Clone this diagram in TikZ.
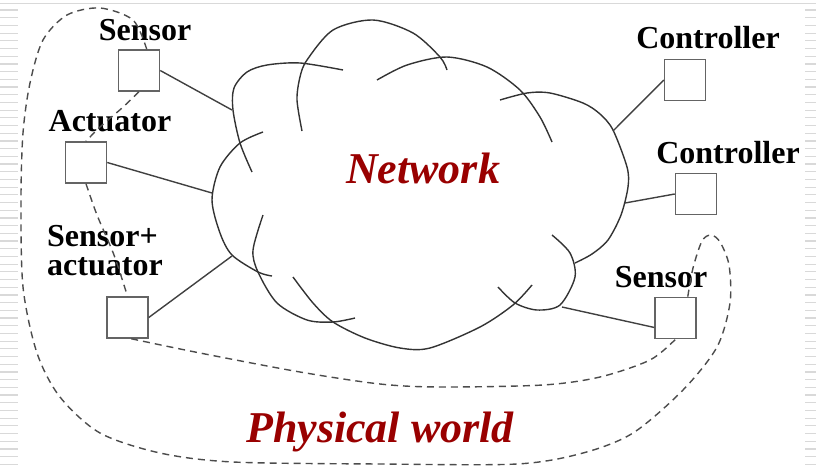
\documentclass[tikz,border=0pt]{standalone}
\usepackage{fontspec}
\setmainfont{Liberation Serif}
\usetikzlibrary{calc}
\definecolor{netred}{RGB}{153,0,0}
\definecolor{boxgray}{RGB}{100,100,100}

\begin{document}
\begin{tikzpicture}[x=1pt, y=-1pt,
    dev/.style={draw=boxgray, line width=1.5pt, minimum size=41pt, inner sep=0pt},
    lbl/.style={font=\fontsize{32}{29}\selectfont\bfseries, inner sep=0pt},
    big/.style={font=\fontsize{44}{48}\selectfont\bfseries\itshape, text=netred, inner sep=0pt},
    cloudline/.style={draw=black!80, line width=1.4pt},
    link/.style={draw=black!75, line width=1.4pt},
    world/.style={draw=black!70, line width=1.4pt, dash pattern=on 7pt off 5pt}]

        \useasboundingbox (0,0) rectangle (816,466);

        % edges of the slide
        \draw[black!15, line width=1pt] (0,3) -- (816,3);
        \foreach \y in {10,17.7,...,466} {
            \draw[black!15, line width=1.2pt] (0,\y) -- (18,\y);
            \draw[black!15, line width=1.2pt] (805,\y) -- (816,\y);
        }

        % devices
        \node[dev] (s1) at (139,70.5) {};
        \node[dev] (a1) at (86,162.5) {};
        \node[dev] (sa) at (127.5,317.5) {};
        \node[dev] (c1) at (685,80) {};
        \node[dev] (c2) at (696,194) {};
        \node[dev] (s2) at (675.5,318) {};

        \node[lbl, anchor=base] (s1-t) at (145,40) {Sensor};
        \node[lbl, anchor=base] (a1-t) at (110,131) {Actuator};
        \node[lbl, anchor=base west, align=left] (sa-t) at (47,275) {Sensor+\\actuator};
        \node[lbl, anchor=base] (c1-t) at (708,48) {Controller};
        \node[lbl, anchor=base] (c2-t) at (728,163) {Controller};
        \node[lbl, anchor=base] (s2-t) at (661,287) {Sensor};

        % cloud
        \draw[cloudline] plot[smooth] coordinates {(252,172) (240,143) (233,110) (234,88) (247,72) (267,65) (300,63) (343,70)};
        \draw[cloudline] plot[smooth] coordinates {(302,131) (297,100) (300,77) (307,60) (333,30) (373,20) (413,33) (440,57) (447,70)};
        \draw[cloudline] plot[smooth] coordinates {(377,80) (407,65) (447,57) (487,67) (520,90) (540,117) (552,142)};
        \draw[cloudline] plot[smooth] coordinates {(500,100) (527,93) (550,93) (583,103) (600,114) (613,130) (627,167) (628,187) (621,215) (608,240) (592,254) (575,263)};
        \draw[cloudline] plot[smooth] coordinates {(552,235) (570,253) (575,277) (560,305) (537,310) (515,303) (498,287)};
        \draw[cloudline] plot[smooth] coordinates {(293,277) (313,303) (333,322) (365,338) (400,348) (430,348) (480,327) (513,305) (532,285)};
        \draw[cloudline] plot[smooth] coordinates {(263,215) (253,250) (258,272) (277,303) (307,320) (333,322) (355,318)};
        \draw[cloudline] plot[smooth] coordinates {(263,132) (240,143) (220,167) (212,200) (220,233) (232,255) (258,272) (272,276)};

        \coordinate (n-s1) at (232,110);
        \coordinate (n-a1) at (212,193);
        \coordinate (n-sa) at (232,256);
        \coordinate (n-c1) at (613,131);
        \coordinate (n-c2) at (625,203);
        \coordinate (n-s2) at (562,307);

        \draw[link] (s1.east) -- (n-s1);
        \draw[link] (a1.east) -- (n-a1);
        \draw[link] (sa.east) -- (n-sa);
        \draw[link] (c1.west) -- (n-c1);
        \draw[link] (c2.west) -- (n-c2);
        \draw[link] (s2.-156) -- (n-s2);

        % physical world
        \draw[world] plot[smooth] coordinates {(s1.south) (122,108) (100,127) (a1.north)};
        \draw[world] plot[smooth] coordinates {(a1.south) (97,215) (114,255) (sa.north)};
        \draw[world] plot[smooth] coordinates {(sa.-80) (200,353) (300,372) (380,384) (440,387) (543,385) (600,377) (650,360) (s2.south)};
        \draw[world] plot[smooth] coordinates {(s1.70) (133,20) (100,8) (67,15) (43,40) (30,83) (23,133) (21,200) (23,287) (37,353) (60,397) (100,433) (160,453) (233,462) (380,464) (517,464) (583,453) (633,433) (683,390) (717,347) (730,303) (729,265) (720,242) (711,235) (702,241) (693,268) (s2.60)};

        \node[big, anchor=base] (net) at (423,183) {Network};
        \node[big, anchor=base] (phys) at (380,442) {Physical world};
\end{tikzpicture}
\end{document}
